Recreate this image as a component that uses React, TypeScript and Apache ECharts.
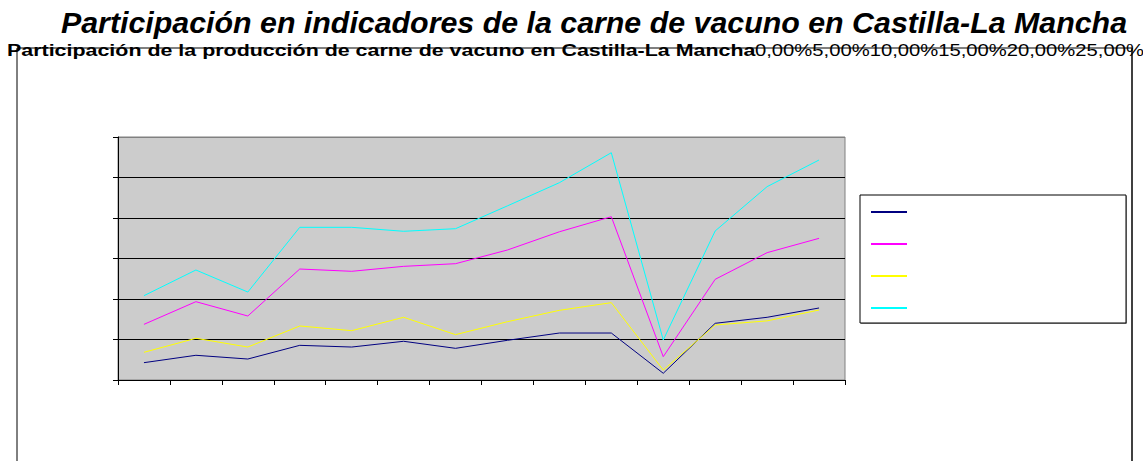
import React, { useEffect, useRef } from "react";
import * as echarts from "echarts";

const mainTitle = "Participación en indicadores de la carne de vacuno en Castilla-La Mancha";
const subTitle = "Participación de la producción de carne de vacuno en Castilla-La Mancha";
const yTickLabels = ["0,00%", "5,00%", "10,00%", "15,00%", "20,00%", "25,00%", "30,00%"];
const categories = ["1", "2", "3", "4", "5", "6", "7", "8", "9", "10", "11", "12", "13", "14"];

const serieAzul = [2.14, 3.05, 2.59, 4.28, 4.07, 4.78, 3.91, 4.9, 5.8, 5.8, 0.83, 7.0, 7.74, 8.89];
const serieMagenta = [6.87, 9.67, 7.9, 13.7, 13.42, 14.03, 14.36, 16.05, 18.3, 20.16, 2.88, 12.43, 15.72, 17.49];
const serieAmarilla = [3.42, 5.15, 4.07, 6.67, 6.09, 7.74, 5.6, 7.2, 8.6, 9.55, 1.23, 6.79, 7.3, 8.64];
const serieCian = [10.41, 13.58, 10.86, 18.85, 18.85, 18.36, 18.68, 21.5, 24.36, 28.06, 4.94, 18.4, 23.87, 27.16];

const seriesNames = ["Serie 1", "Serie 2", "Serie 3", "Serie 4"];
const seriesData = [serieAzul, serieMagenta, serieAmarilla, serieCian];
const seriesColors = ["#000080", "#ff00ff", "#ffff00", "#00ffff"];

export default function App() {
  const ref = useRef<HTMLDivElement>(null);
  useEffect(() => {
    document.body.style.margin = "0";
    const chart = echarts.init(ref.current!, null, { renderer: "svg" });
    const font = "'Liberation Sans', Arial, sans-serif";
    chart.setOption({
      animation: false,
      backgroundColor: "#ffffff",
      grid: {
        left: 118,
        right: 298,
        top: 137,
        bottom: 81,
        show: true,
        backgroundColor: "#cccccc",
        borderColor: "#808080",
        borderWidth: 1,
      },
      xAxis: {
        type: "category",
        data: categories,
        boundaryGap: true,
        axisLine: { lineStyle: { color: "#000000", width: 1 } },
        axisTick: { show: true, interval: 0, length: 5, lineStyle: { color: "#000000" } },
        axisLabel: { show: false },
        splitLine: { show: false },
      },
      yAxis: {
        type: "value",
        min: 0,
        max: 30,
        interval: 5,
        axisLine: { show: true, lineStyle: { color: "#000000", width: 1 } },
        axisTick: { show: true, length: 5, lineStyle: { color: "#000000" } },
        axisLabel: { show: false },
        splitLine: {
          show: true,
          lineStyle: { color: ["#000000", "#000000", "#000000", "#000000", "#000000", "#000000", "#808080"], width: 1 },
        },
      },
      legend: {
        show: true,
        orient: "vertical",
        left: 866,
        top: 206,
        icon: "rect",
        itemWidth: 36,
        itemHeight: 2,
        itemGap: 30,
        formatter: () => "",
        textStyle: { fontSize: 12 },
        data: seriesNames,
        z: 10,
      },
      graphic: [
        {
          type: "rect",
          shape: { x: 17, y: 48, width: 1115, height: 430 },
          style: { fill: "none", stroke: "#000000", lineWidth: 1 },
          z: -10,
          silent: true,
        },
        {
          type: "rect",
          shape: { x: 1131, y: 48, width: 2, height: 430 },
          style: { fill: "#404040" },
          z: -9,
          silent: true,
        },
        {
          type: "rect",
          shape: { x: 861, y: 196, width: 266, height: 128 },
          style: { fill: "#9a9a9a" },
          z: 0,
          silent: true,
        },
        {
          type: "rect",
          shape: { x: 860, y: 195, width: 266, height: 128 },
          style: { fill: "#ffffff", stroke: "#000000", lineWidth: 1 },
          z: 1,
          silent: true,
        },
        {
          type: "text",
          x: 594,
          y: 8,
          scaleX: 1.012,
          style: {
            text: mainTitle,
            font: `italic bold 30px ${font}`,
            fill: "#000000",
            align: "center",
            verticalAlign: "top",
          },
        },
        {
          type: "text",
          x: 7,
          y: 42,
          scaleX: 1.26,
          style: {
            text: subTitle,
            font: `bold 17px ${font}`,
            fill: "#000000",
            verticalAlign: "top",
          },
          z: 20,
        },
        {
          type: "text",
          x: 755,
          y: 42,
          scaleX: 1.19,
          style: {
            text: yTickLabels.slice(0, 6).join(""),
            font: `17px ${font}`,
            fill: "#000000",
            verticalAlign: "top",
          },
          z: 20,
        },
      ],
      series: seriesData.map((d, i) => ({
        name: seriesNames[i],
        type: "line",
        data: d,
        symbol: "none",
        showSymbol: false,
        lineStyle: { color: seriesColors[i], width: 1 },
        itemStyle: { color: seriesColors[i] },
      })),
    });
    return () => chart.dispose();
  }, []);
  return <div ref={ref} style={{ width: 1143, height: 461 }} />;
}
